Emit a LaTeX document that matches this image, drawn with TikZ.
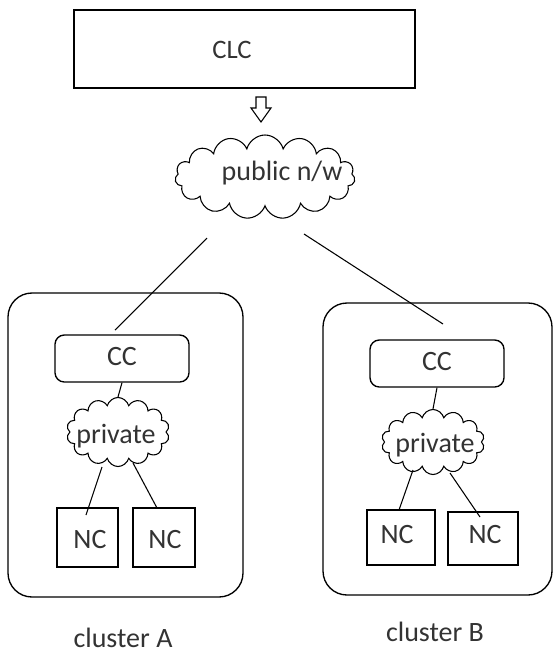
\documentclass[tikz,border=0pt]{standalone}
\usepackage{fontspec}
\setmainfont{Carlito}
\usetikzlibrary{shapes.symbols}
\begin{document}
\begin{tikzpicture}[x=0.75pt,y=-0.75pt,
  txt/.style={text=black!80,font=\fontsize{21pt}{24pt}\selectfont,inner sep=0pt},
  cloudbox/.style={cloud,cloud puffs=14,cloud ignores aspect,draw,line width=0.8pt,inner sep=0pt},
  ncbox/.style={draw,line width=1pt,inner sep=0pt},
  ccbox/.style={draw,line width=1pt,rounded corners=7pt,inner sep=0pt},
  clusterbox/.style={draw,line width=1pt,rounded corners=18pt},
  conn/.style={line width=0.8pt}]
\useasboundingbox (0,0) rectangle (553,657);
% CLC
\node[draw,line width=1.4pt,minimum width=341*0.75pt,minimum height=78*0.75pt,inner sep=0pt] (clc) at (244.5,49) {};
\node[txt,font=\fontsize{20pt}{24pt}\selectfont] (clct) at (232,50) {CLC};
% hollow arrow
\draw[line width=0.8pt] (256,97) -- (266,97) -- (266,108) -- (271,108) -- (261,122) -- (251,108) -- (256,108) -- cycle;
% public cloud
\node[cloudbox,cloud puffs=15,minimum width=180*0.75pt,minimum height=84*0.75pt] (pub) at (265,177) {};
\node[txt] (pubt) at (282,173) {public n/w};
% cluster A
\draw[clusterbox] (8,293) rectangle (243,597);
\node[ccbox,minimum width=134*0.75pt,minimum height=47*0.75pt] (ccA) at (122,358.5) {};
\node[txt] (ccAt) at (122,357) {CC};
\node[cloudbox,minimum width=103*0.75pt,minimum height=69*0.75pt] (prA) at (118,432) {};
\node[txt] (prAt) at (116,436) {private};
\node[ncbox,minimum width=61*0.75pt,minimum height=59*0.75pt] (ncA1) at (87.5,537.5) {};
\node[txt] (ncA1t) at (90,540) {NC};
\node[ncbox,minimum width=62*0.75pt,minimum height=59*0.75pt] (ncA2) at (164,537.5) {};
\node[txt] (ncA2t) at (165,540) {NC};
% cluster B
\draw[clusterbox] (323,303) rectangle (552,595);
\node[ccbox,minimum width=134*0.75pt,minimum height=47*0.75pt] (ccB) at (437,363.5) {};
\node[txt] (ccBt) at (437,362) {CC};
\node[cloudbox,minimum width=103*0.75pt,minimum height=65*0.75pt] (prB) at (433,442) {};
\node[txt] (prBt) at (435,445) {private};
\node[ncbox,minimum width=68*0.75pt,minimum height=55*0.75pt] (ncB1) at (401,537.5) {};
\node[txt] (ncB1t) at (397,535) {NC};
\node[ncbox,minimum width=70*0.75pt,minimum height=53*0.75pt] (ncB2) at (483,538.5) {};
\node[txt] (ncB2t) at (485,535) {NC};
% labels
\node[txt] (labA) at (123,638) {cluster A};
\node[txt] (labB) at (435,632) {cluster B};
% connector end points
\coordinate (pA) at (207,238);
\coordinate (cA) at (115,330);
\coordinate (pB) at (304,234);
\coordinate (cB) at (443,324);
\coordinate (a1s) at (102,467);
\coordinate (a1e) at (86,515);
\coordinate (a2s) at (133,463);
\coordinate (a2e) at (157,508);
\coordinate (b1s) at (413,470);
\coordinate (b1e) at (399,510);
\coordinate (b2s) at (450,473);
\coordinate (b2e) at (480,517);
% connectors
\draw[conn] (pA) -- (cA);
\draw[conn] (pB) -- (cB);
\draw[conn] (ccA.south) -- (prA.north);
\draw[conn] (ccB.south) -- (prB.north);
\draw[conn] (a1s) -- (a1e);
\draw[conn] (a2s) -- (a2e);
\draw[conn] (b1s) -- (b1e);
\draw[conn] (b2s) -- (b2e);
\end{tikzpicture}
\end{document}
